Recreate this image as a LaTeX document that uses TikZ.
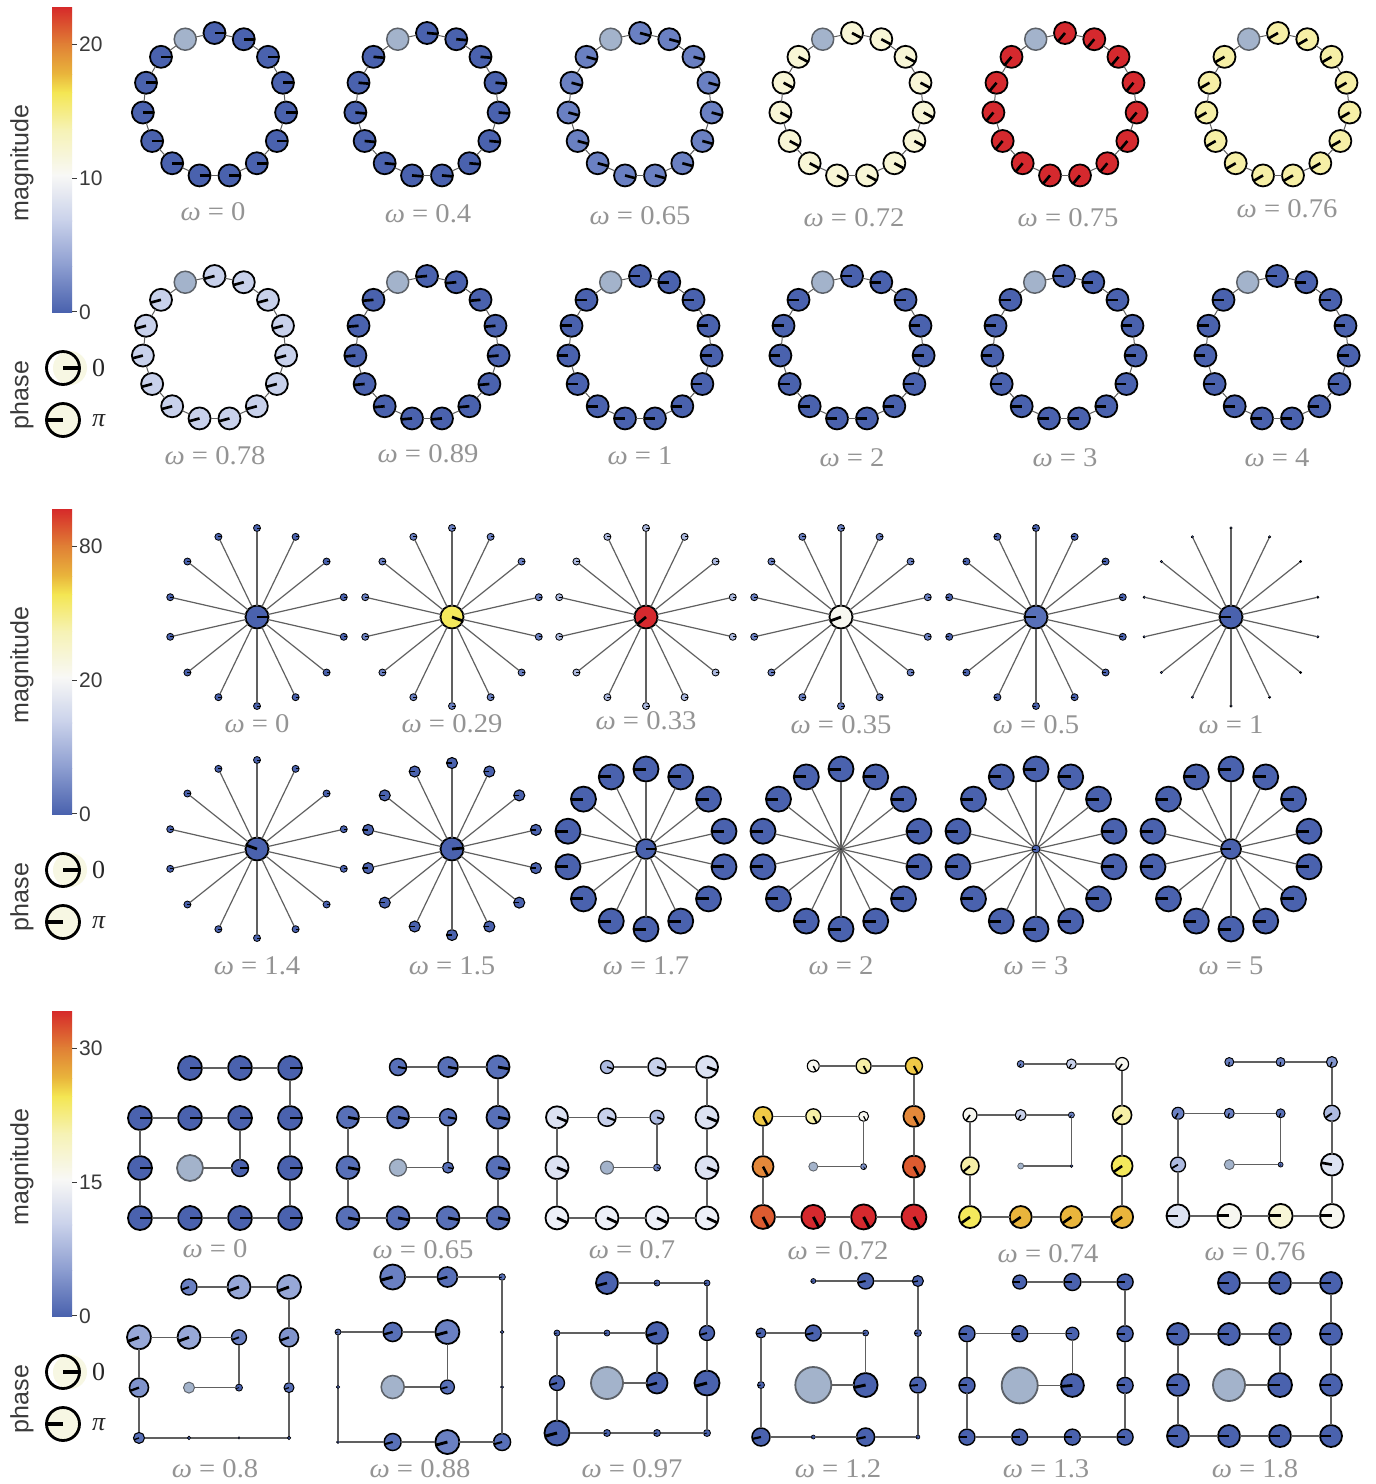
\documentclass[tikz,border=0pt]{standalone}
\usepackage{fontspec}
\setmainfont{Liberation Serif}
\newfontfamily\labfont[FakeStretch=1.06]{Liberation Serif}
\newfontfamily\sansf{Liberation Sans}
\definecolor{cB0}{HTML}{4A62AE}
\definecolor{cB1}{HTML}{5870B8}
\definecolor{cB2}{HTML}{6A80C2}
\definecolor{cB3}{HTML}{8094CC}
\definecolor{cB4}{HTML}{97A8D7}
\definecolor{cB5}{HTML}{ADBAE0}
\definecolor{cB6}{HTML}{C8D1EB}
\definecolor{cB7}{HTML}{DCE2F2}
\definecolor{cB8}{HTML}{EDF0F8}
\definecolor{cW}{HTML}{F7F7F0}
\definecolor{cY1}{HTML}{F8F6D6}
\definecolor{cY2}{HTML}{F6EFA6}
\definecolor{cY3}{HTML}{F4E95C}
\definecolor{cY4}{HTML}{EFC947}
\definecolor{cO1}{HTML}{E9B53C}
\definecolor{cO2}{HTML}{E3883A}
\definecolor{cO3}{HTML}{DC5B30}
\definecolor{cR}{HTML}{D5292E}
\definecolor{greybody}{HTML}{A3B3CB}
\definecolor{greyedge}{HTML}{5C6168}
\definecolor{edgegrey}{HTML}{606060}
\definecolor{labgrey}{HTML}{949494}
\definecolor{ticktext}{HTML}{3A3A3A}
\definecolor{legpale}{HTML}{F7F7E3}
\definecolor{cbR}{HTML}{D62A2A}
\definecolor{cbO}{HTML}{E07F35}
\definecolor{cbG}{HTML}{E9B63C}
\definecolor{cbY}{HTML}{F4E652}
\definecolor{cbPY}{HTML}{F6F2B4}
\definecolor{cbW}{HTML}{F8F8F6}
\definecolor{cbLB}{HTML}{C9D1EA}
\definecolor{cbMB}{HTML}{8C9DD0}
\definecolor{cbB}{HTML}{4A62AE}
\tikzset{
 ringedge/.style={draw=edgegrey,line width=1pt},
 staredge/.style={draw=edgegrey,line width=1.2pt},
 gridedge/.style={draw=edgegrey,line width=1.4pt},
 omlabel/.style={font=\labfont\fontsize{27}{30}\selectfont,text=labgrey,inner sep=0pt},
 ticklab/.style={font=\sansf\fontsize{21}{24}\selectfont,text=ticktext,anchor=west,inner sep=0pt},
 axlab/.style={font=\sansf\fontsize{25}{28}\selectfont,text=ticktext,rotate=90,inner sep=0pt},
 leglab/.style={font=\fontsize{26}{30}\selectfont,text=black!85,anchor=west,inner sep=0pt},
 tickmark/.style={draw=ticktext,line width=0.8pt},
 legring/.style={circle,draw=black,line width=2.8pt,minimum size=33,inner sep=0pt,outer sep=0pt},
}
\newcommand\oscnode[6]{%
 \pgfmathsetmacro\bwid{min(1.8,0.35+0.13*#4)}%
 \pgfmathsetmacro\pwid{max(0.45,0.24*#4)}%
 \node[circle,inner sep=0pt,outer sep=0pt,minimum size={2*(#4)},draw=black,line width=\bwid pt,fill=#5] (#1) at (#2,#3) {};%
 \draw[line width=\pwid pt] (#1.center) -- (#1.#6);%
}
\newcommand\greyosc[4]{%
 \pgfmathsetmacro\bwid{min(1.8,0.4+0.1*#4)}%
 \node[circle,inner sep=0pt,outer sep=0pt,minimum size={2*(#4)},draw=greyedge,line width=\bwid pt,fill=greybody] (#1) at (#2,#3) {};%
}
\newcommand\ringpanel[7]{%
 \foreach \k in {0,...,14}{%
  \pgfmathsetmacro\ang{90+24*\k}%
  \pgfmathsetmacro\px{#2+#4*cos(\ang)}%
  \pgfmathsetmacro\py{#3-#4*sin(\ang)}%
  \ifnum\k=1 \greyosc{#1n\k}{\px}{\py}{#5}\else\oscnode{#1n\k}{\px}{\py}{#5}{#6}{#7}\fi
 }%
 \foreach \k [remember=\k as \j (initially 14)] in {0,...,14}{\draw[ringedge] (#1n\j) -- (#1n\k);}%
}
\def\lph{0}
\newcommand\starpanel[9]{%
 \oscnode{#1c}{#2}{#3}{#5}{#6}{#7}%
 \foreach \k in {0,...,13}{%
  \pgfmathsetmacro\ang{90+360/14*\k}%
  \pgfmathsetmacro\px{#2+#4*cos(\ang)}%
  \pgfmathsetmacro\py{#3-#4*sin(\ang)}%
  \oscnode{#1l\k}{\px}{\py}{#8}{#9}{\lph}%
  \draw[staredge] (#1c) -- (#1l\k);%
 }%
}
\newcommand\gridpanel[7]{%
 \pgfmathsetmacro\px{#2+#4}%
 \pgfmathsetmacro\py{#3+2*#5}%
 \greyosc{#1n0}{\px}{\py}{#6}%
 \foreach \rr/\cl/\ph [count=\i] in {#7}{%
  \pgfmathtruncatemacro\gc{{2,3,3,2,1,1,1,2,3,4,4,4,4,3,2}[\i]}%
  \pgfmathtruncatemacro\gr{{3,3,2,2,2,3,4,4,4,4,3,2,1,1,1}[\i]}%
  \pgfmathsetmacro\px{#2+(\gc-1)*#4}%
  \pgfmathsetmacro\py{#3+(\gr-1)*#5}%
  \oscnode{#1n\i}{\px}{\py}{\rr}{\cl}{\ph}%
 }%
 \foreach \i [remember=\i as \j (initially 0)] in {1,...,14}{\draw[gridedge] (#1n\j) -- (#1n\i);}%
}
\newcommand\omlab[4]{\node[omlabel] (#1) at (#2,#3) {{\itshape ω} = #4};}
\newcommand\cbar[4]{%
 \foreach \ya/\yb/\ca/\cb in {7/44.1/cbR/cbO,43.6/74.5/cbO/cbG,74/92.5/cbG/cbY,92/129.5/cbY/cbPY,129/175.5/cbPY/cbW,175/221/cbW/cbLB,220.5/266.5/cbLB/cbMB,266/312/cbMB/cbB}{%
  \shade[top color=\ca,bottom color=\cb] (52,#1+\ya) rectangle (72,#1+\yb);}%
 \draw[tickmark] (72,#1+44) -- (77,#1+44);
 \draw[tickmark] (72,#1+178) -- (77,#1+178);
 \draw[tickmark] (72,#1+311.5) -- (77,#1+311.5);
 \node[ticklab] (#4t1) at (79,#1+44) {#2};
 \node[ticklab] (#4t2) at (79,#1+178) {#3};
 \node[ticklab] (#4t3) at (79,#1+312) {0};
 \node[axlab] (#4mag) at (22,#1+163) {magnitude};
 \node[axlab] (#4ph) at (22,#1+395) {phase};
 \fill[legpale] (70,#1+368) circle (17);
 \node[legring] (#4p0) at (63,#1+368) {};
 \draw[line width=3.2pt] (#4p0.center) -- (#4p0.0);
 \node[legring,fill=legpale] (#4pp) at (63,#1+420) {};
 \draw[line width=3.2pt] (#4pp.center) -- (#4pp.180);
 \node[leglab] (#4l0) at (92,#1+368) {0};
 \node[leglab] (#4lp) at (92,#1+421) {\itshape π};
}
\begin{document}
\begin{tikzpicture}[x=1pt,y=-1pt]
\fill[white] (0,0) rectangle (1376,1484);
\useasboundingbox (0,0) rectangle (1376,1484);
% ================= section 1: rings
\cbar{0}{20}{10}{A}
\ringpanel{RA}{214.5}{105}{72}{11}{cB0}{0}
\ringpanel{RB}{427}{105}{72}{11}{cB0}{-5}
\ringpanel{RC}{640}{105}{72}{11}{cB2}{-15}
\ringpanel{RD}{852}{105}{72}{11}{cY1}{-28}
\ringpanel{RE}{1065}{105}{72}{11}{cR}{-130}
\ringpanel{RF}{1278}{105}{72}{11}{cY2}{-150}
\ringpanel{RG}{214.5}{348}{72}{11}{cB6}{-165}
\ringpanel{RH}{427}{348}{72}{11}{cB0}{-175}
\ringpanel{RI}{640}{348}{72}{11}{cB0}{180}
\ringpanel{RJ}{852}{348}{72}{11}{cB0}{180}
\ringpanel{RK}{1064}{348}{72}{11}{cB0}{180}
\ringpanel{RL}{1277}{348}{72}{11}{cB0}{180}
\omlab{LRA}{213}{212}{0}
\omlab{LRB}{428}{214}{0.4}
\omlab{LRC}{640}{216}{0.65}
\omlab{LRD}{854}{218}{0.72}
\omlab{LRE}{1068}{218}{0.75}
\omlab{LRF}{1287}{209}{0.76}
\omlab{LRG}{215}{456}{0.78}
\omlab{LRH}{428}{454}{0.89}
\omlab{LRI}{640}{456}{1}
\omlab{LRJ}{852}{458}{2}
\omlab{LRK}{1065}{458}{3}
\omlab{LRL}{1277}{458}{4}
% ================= section 2: stars
\cbar{502}{80}{20}{B}
\def\lph{0}
\starpanel{SA}{257}{617}{89}{11.5}{cB0}{0}{3.5}{cB0}
\starpanel{SB}{452}{617}{89}{11.5}{cY3}{-20}{3.5}{cB2}
\starpanel{SC}{646}{617}{89}{11.5}{cR}{-140}{3.5}{cB5}
\starpanel{SD}{841}{617}{89}{11.5}{cW}{-160}{3.5}{cB2}
\def\lph{180}
\starpanel{SE}{1036}{617}{89}{11.5}{cB1}{180}{3.5}{cB0}
\starpanel{SF}{1231}{617}{89}{11.5}{cB0}{180}{1.2}{cB0}
\def\lph{0}
\starpanel{SG}{257}{849}{89}{11.5}{cB0}{160}{3.5}{cB0}
\def\lph{180}
\starpanel{SH}{452}{849}{86}{11.5}{cB0}{5}{5.5}{cB0}
\starpanel{SI}{646}{849}{80}{10}{cB0}{0}{12.5}{cB0}
\starpanel{SJ}{841}{849}{80}{1}{cB0}{180}{12.5}{cB0}
\starpanel{SK}{1036}{849}{80}{4}{cB0}{180}{12.5}{cB0}
\starpanel{SL}{1231}{849}{80}{10}{cB0}{180}{12.5}{cB0}
\omlab{LSA}{257}{724}{0}
\omlab{LSB}{452}{724}{0.29}
\omlab{LSC}{646}{721}{0.33}
\omlab{LSD}{841}{725}{0.35}
\omlab{LSE}{1036}{725}{0.5}
\omlab{LSF}{1231}{725}{1}
\omlab{LSG}{257}{966}{1.4}
\omlab{LSH}{452}{966}{1.5}
\omlab{LSI}{646}{966}{1.7}
\omlab{LSJ}{841}{966}{2}
\omlab{LSK}{1036}{966}{3}
\omlab{LSL}{1231}{966}{5}
% ================= section 3: spiral grids
\cbar{1004}{30}{15}{C}
\gridpanel{GA}{140}{1068}{50}{50}{13}{8.5/cB0/0,12/cB0/0,12/cB0/0,12/cB0/0,12/cB0/0,12/cB0/0,12/cB0/0,12/cB0/0,12/cB0/0,12/cB0/0,12/cB0/0,12/cB0/0,12/cB0/0,12/cB0/0}
\gridpanel{GB}{348}{1067}{50}{50.3}{8.5}{5.5/cB1/-10,8.5/cB1/-10,11/cB1/-10,11/cB1/-10,11.5/cB1/-10,11.5/cB1/-10,11.5/cB1/-10,11.5/cB1/-10,11.5/cB1/-10,11.5/cB1/-10,11.5/cB1/-10,11.5/cB1/-10,10/cB1/-10,8.5/cB1/-10}
\gridpanel{GC}{557}{1067}{50}{50.3}{6.5}{3.5/cB2/-18,7/cB5/-18,9/cB6/-20,11/cB7/-22,11.5/cB7/-22,11.5/cB8/-25,11.5/cB8/-25,11.5/cB8/-25,11.5/cB8/-25,11.5/cB7/-22,11.5/cB7/-22,11/cB7/-20,9/cB6/-18,6.5/cB5/-18}
\gridpanel{GD}{763}{1066}{50.3}{50.3}{4.5}{3/cB3/-62,5/cW/-62,7.5/cY2/-62,9.5/cY4/-62,10.5/cO2/-62,12/cO3/-62,12/cR/-62,12.5/cR/-62,12.5/cR/-62,11/cO3/-62,10.5/cO2/-62,8.5/cY4/-62,7.5/cY2/-62,6/cW/-62}
\gridpanel{GE}{970}{1064}{50.7}{51}{3}{1.5/cB0/-140,3/cB2/-120,5.5/cB6/-120,7/cW/-125,9/cY2/-140,11/cY3/-145,11/cO1/-145,11/cO1/-145,11/cO1/-145,10.5/cY3/-145,9.5/cY2/-140,6.5/cW/-125,5/cB6/-120,3.5/cB2/-120}
\gridpanel{GF}{1178}{1062}{51.3}{51.3}{5}{2.5/cB1/-120,4.5/cB1/-110,5/cB2/-110,6/cB2/-120,7.5/cB5/-150,11.5/cB7/180,12/cW/180,12/cY1/180,12/cW/180,11/cB7/170,8/cB5/-145,5.5/cB3/-110,4.5/cB2/-100,4.5/cB2/-100}
\gridpanel{GG}{139}{1287}{50}{50.3}{5.5}{3.5/cB0/-160,7.5/cB2/-160,11.5/cB4/-160,12/cB4/-160,9.5/cB3/-160,5.5/cB1/-160,1.8/cB0/-160,1.2/cB0/-160,1.8/cB0/-160,5/cB1/-160,9.5/cB3/-160,12/cB4/-160,11.5/cB4/-160,8/cB2/-160}
\gridpanel{GH}{338}{1277}{54.7}{55}{11.5}{7/cB1/-165,12/cB2/-165,9.5/cB1/-165,3/cB1/-165,1.8/cB0/-165,1.5/cB0/-165,8.5/cB1/-165,12/cB2/-165,8.5/cB1/-165,1.5/cB0/-165,1.8/cB0/-165,3.3/cB1/-165,10/cB1/-165,12.5/cB2/-165}
\gridpanel{GI}{557}{1283}{50}{50}{16}{10.5/cB0/-165,11/cB0/-165,3/cB0/-165,3/cB0/-165,7.5/cB0/-165,12.5/cB0/-165,3.5/cB0/-165,3.5/cB0/-165,3.5/cB0/-165,12.5/cB0/-165,7.5/cB0/-165,3/cB0/-165,3/cB0/-165,11/cB0/-165}
\gridpanel{GJ}{761}{1281}{52.3}{52}{18}{12/cB0/-168,3/cB0/-168,8/cB0/-168,5/cB0/-168,3.5/cB0/-168,9/cB0/-168,2/cB0/-168,9/cB0/-168,2/cB0/-168,8/cB0/-175,3.5/cB0/-168,5.5/cB0/-168,8/cB0/-168,2.5/cB0/-168}
\gridpanel{GK}{967}{1282}{52.7}{51.7}{18}{11.5/cB0/-175,6.5/cB0/180,8/cB0/180,8/cB0/180,8/cB0/180,8/cB0/180,8/cB0/180,8/cB0/180,8/cB0/180,8/cB0/180,8/cB0/180,8/cB0/180,8.5/cB0/180,7/cB0/180}
\gridpanel{GL}{1178}{1283}{51}{51}{16}{12/cB0/180,11/cB0/180,11/cB0/180,11/cB0/180,11/cB0/180,11/cB0/180,11/cB0/180,11/cB0/180,11/cB0/180,11/cB0/180,11/cB0/180,11/cB0/180,11/cB0/180,11/cB0/180}
\omlab{LGA}{215}{1249}{0}
\omlab{LGB}{423}{1250}{0.65}
\omlab{LGC}{632}{1250}{0.7}
\omlab{LGD}{838}{1251}{0.72}
\omlab{LGE}{1048}{1254}{0.74}
\omlab{LGF}{1255}{1252}{0.76}
\omlab{LGG}{215}{1469}{0.8}
\omlab{LGH}{420}{1469}{0.88}
\omlab{LGI}{632}{1469}{0.97}
\omlab{LGJ}{838}{1469}{1.2}
\omlab{LGK}{1046}{1469}{1.3}
\omlab{LGL}{1255}{1469}{1.8}
\end{tikzpicture}
\end{document}
